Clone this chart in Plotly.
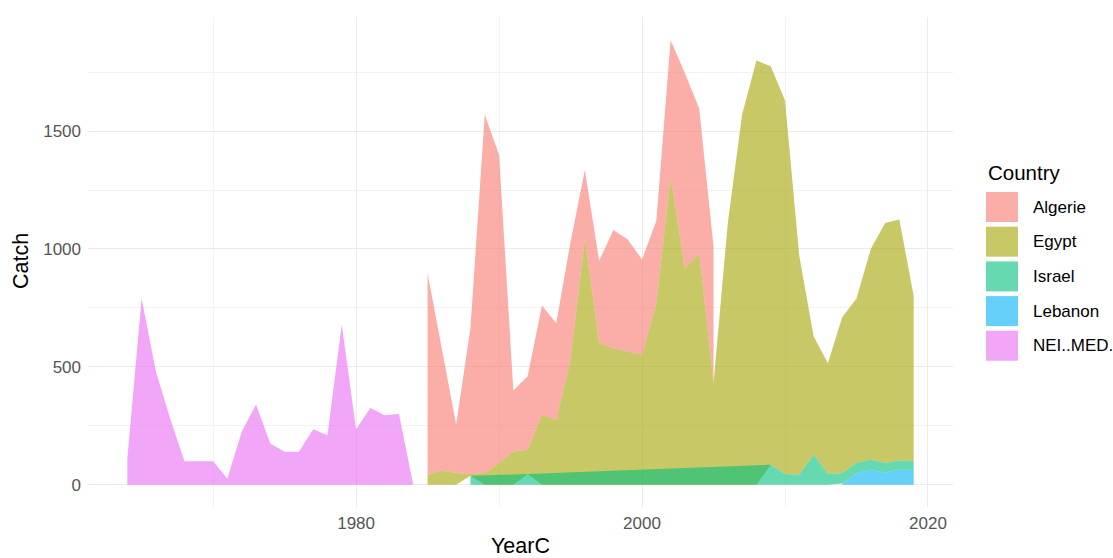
import plotly.graph_objects as go

# ---------------- data (catch per country and year) ----------------
nei_years = list(range(1964, 1985))
nei_catch = [110, 790, 480, 280, 100, 100, 100, 25, 225, 340, 175, 140, 140,
             235, 210, 680, 235, 325, 295, 300, 0]

algerie_years = list(range(1985, 2006))
algerie_catch = [855, 510, 205, 620, 1520, 1308, 259, 312, 463, 410, 500, 290,
                 350, 501, 475, 404, 350, 579, 827, 613, 579]

egypt_years = list(range(1985, 2020))
egypt_catch = [42, 60, 50, 7, 50, 92, 141, 103, 297, 275, 530, 1045, 600, 579,
               565, 551, 770, 1306, 918, 982, 431, 1110, 1570, 1800, 1690, 1585,
               928, 503, 468, 661, 698, 894, 1018, 1022, 700]

israel_years = [1988, 1992] + list(range(2009, 2020))
israel_catch = [38, 45, 85, 45, 42, 127, 47, 44, 43, 42, 40, 39, 36]

lebanon_years = list(range(2014, 2020))
lebanon_catch = [5, 49, 64, 52, 64, 64]

countries = ["Algerie", "Egypt", "Israel", "Lebanon", "NEI..MED."]
colors = ["#F8766D", "#A3A500", "#00BF7D", "#00B0F6", "#E76BF3"]
x_ticks = [1980, 2000, 2020]
y_ticks = [0, 500, 1000, 1500]

series = {
    "Algerie": (algerie_years, algerie_catch),
    "Egypt": (egypt_years, egypt_catch),
    "Israel": (israel_years, israel_catch),
    "Lebanon": (lebanon_years, lebanon_catch),
    "NEI..MED.": (nei_years, nei_catch),
}
lookup = {k: dict(zip(*v)) for k, v in series.items()}
# stacking: first factor level ends on top (stacked per shared x value only)
stack_bottom_to_top = countries[::-1]


def rgba(hx, a=0.6):
    h = hx.lstrip("#")
    return "rgba(%d,%d,%d,%.2f)" % (int(h[0:2], 16), int(h[2:4], 16), int(h[4:6], 16), a)


fig = go.Figure()
for name, col in zip(countries, colors):
    yrs, vals = series[name]
    lower = stack_bottom_to_top[:stack_bottom_to_top.index(name)]
    ymin = [sum(lookup[l].get(x, 0) for l in lower) for x in yrs]
    ymax = [b + v for b, v in zip(ymin, vals)]
    fig.add_trace(go.Scatter(
        x=list(yrs) + list(yrs)[::-1],
        y=ymax + ymin[::-1],
        mode="lines", fill="toself",
        fillcolor=rgba(col),
        line=dict(width=0, color="rgba(0,0,0,0)"),
        name=name, showlegend=False, hoverinfo="skip",
    ))

# ---------------- layout ----------------
L, R, T, B = 88, 953, 17, 507
W, H = 1113, 558


def px(xp):
    return (xp - L) / (R - L)


def py(yp):
    return (B - yp) / (B - T)


font_family = "Liberation Sans, Arial, sans-serif"
fig.update_layout(
    width=W, height=H,
    margin=dict(l=L, r=W - R, t=T, b=H - B),
    paper_bgcolor="white", plot_bgcolor="white",
    font=dict(family=font_family),
    xaxis=dict(
        range=[1961.25, 2021.75], tickvals=x_ticks, ticks="",
        showgrid=True, gridcolor="#EBEBEB", gridwidth=1.1, zeroline=False,
        showline=False, tickfont=dict(size=17, color="#555555"),
        ticklabelstandoff=4,
        minor=dict(dtick=10, tick0=0, showgrid=True, gridcolor="#F3F3F3", gridwidth=0.7),
    ),
    yaxis=dict(
        range=[-94.5, 1984], tickvals=y_ticks, ticks="",
        showgrid=True, gridcolor="#EBEBEB", gridwidth=1.1, zeroline=False,
        showline=False, tickfont=dict(size=17, color="#555555"),
        ticklabelstandoff=6,
        minor=dict(dtick=250, tick0=0, showgrid=True, gridcolor="#F3F3F3", gridwidth=0.7),
    ),
    showlegend=False,
)

annotations = [
    dict(text="YearC", x=px(520), y=py(546), xref="paper", yref="paper",
         showarrow=False, font=dict(size=21.5, color="black"),
         xanchor="center", yanchor="middle"),
    dict(text="Catch", x=px(21), y=py(261), xref="paper", yref="paper",
         showarrow=False, font=dict(size=21.5, color="black"), textangle=-90,
         xanchor="center", yanchor="middle"),
    dict(text="Country", x=px(986), y=py(172), xref="paper", yref="paper",
         showarrow=False, font=dict(size=20.5, color="black"),
         xanchor="left", yanchor="middle"),
]
shapes = []
for i, (name, col) in enumerate(zip(countries, colors)):
    top = 192 + 34.7 * i
    shapes.append(dict(type="rect", xref="paper", yref="paper",
                       x0=px(986), x1=px(1018), y0=py(top), y1=py(top + 30),
                       fillcolor=rgba(col), line=dict(width=0)))
    annotations.append(dict(text=name, x=px(1031), y=py(top + 15),
                            xref="paper", yref="paper", showarrow=False,
                            font=dict(size=17, color="black"),
                            xanchor="left", yanchor="middle"))
fig.update_layout(annotations=annotations, shapes=shapes)

fig.write_html(
    "out.html",
    config={"displayModeBar": False},
    post_script="document.body.style.margin='0px';document.body.style.overflow='hidden';",
)
